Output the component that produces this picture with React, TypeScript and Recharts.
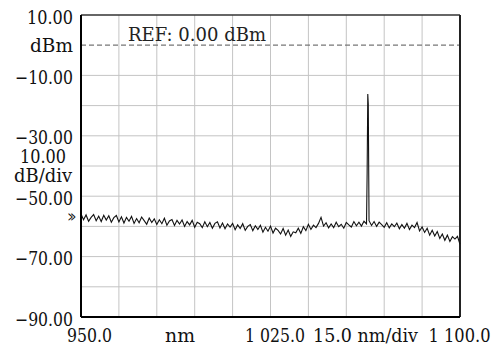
import React from "react";
import { LineChart, Line, XAxis, YAxis, ReferenceLine } from "recharts";

// optical spectrum trace, 1 nm sampling
const startNm = 950;
const powerA = [
  -55.9, -57.8, -56.2, -58.3, -57.0, -56.1, -58.1, -56.6, -58.4, -56.3,
  -57.9, -56.5, -58.6, -57.1, -56.4, -58.5, -56.8, -58.9, -57.0, -58.3,
  -56.7, -59.0, -57.4, -58.8, -56.9, -58.1, -59.3, -57.2, -58.7, -57.5,
  -59.4, -57.8, -59.1, -57.3, -59.6, -58.2, -57.7, -59.7, -58.0, -59.2,
  -57.9, -60.0, -58.4, -59.5, -58.0, -60.3, -58.6, -59.1, -60.4, -58.5,
  -60.1, -58.7, -60.6, -59.0, -58.5, -60.5, -58.9, -60.8, -59.2, -60.2,
];
const startB = 1010;
const powerB = [
  -59.0, -61.1, -59.5, -60.7, -59.1, -61.3, -60.0, -59.4, -61.4, -59.8,
  -61.0, -59.6, -61.9, -60.3, -61.6, -59.9, -62.2, -60.6, -61.3, -62.5,
  -60.7, -62.9, -61.2, -63.3, -61.8, -62.1, -60.6, -62.3, -60.1, -61.4,
  -59.3, -61.0, -59.6, -60.4, -59.0, -57.0, -59.9, -58.8, -60.5, -59.2,
  -60.4, -58.6, -60.1, -59.3, -60.6, -58.7, -59.5, -60.2, -58.4, -59.8,
  -58.6, -59.9, -58.3, -59.2,
];
const peakNm = [1063.25, 1063.5, 1063.7];
const peakDbm = [-42.0, -16.2, -19.5];
const startC = 1064;
const powerC = [
  -58.1, -59.7, -58.4, -60.0, -58.6, -59.4,
  -60.3, -58.8, -60.5, -59.2, -60.1, -58.9, -60.8, -59.4, -60.6, -59.0,
  -61.0, -59.6, -60.4, -58.7, -61.5, -60.2, -62.0, -60.6, -62.9, -61.3,
  -63.2, -61.7, -64.0, -62.5, -64.6, -62.9, -65.0, -63.4, -64.2, -63.3,
  -65.9,
];

const gridX = [965, 980, 995, 1010, 1025, 1040, 1055, 1070, 1085];
const gridY = [-10, -20, -30, -40, -50, -60, -70, -80];

const yTickValues = [10, 0.6, -10, -30, -36.3, -42.6, -50, -55.4, -70, -90];
const yTickLabels = ["10.00", "dBm", "−10.00", "−30.00", "10.00", "dB/div", "−50.00", "≫", "−70.00", "−90.00"];
const xTickValues = [953.4, 989.2, 1026.8, 1062.6, 1100];
const xTickLabels = ["950.0", "nm", "1 025.0", "15.0 nm/div", "1 100.0"];

// label widths in px, matched to the screen capture
const yLabelWidth: Record<string, number> = { "10.00": 46, dBm: 43, "dB/div": 58, "≫": 8 };
const xLabelWidth = [45, 30, 60, 105, 62];

const data = [
  ...powerA.map((dbm, i) => ({ nm: startNm + i, dbm })),
  ...powerB.map((dbm, i) => ({ nm: startB + i, dbm })),
  ...peakNm.map((nm, i) => ({ nm, dbm: peakDbm[i] })),
  ...powerC.map((dbm, i) => ({ nm: startC + i, dbm })),
];

const FONT = "DejaVu Serif";

const YTick = ({ x, y, payload }: any) => {
  const idx = yTickValues.indexOf(payload.value);
  const label = yTickLabels[idx];
  const small = label === "≫";
  const divLabel = idx === 4 || idx === 5;
  const w = yLabelWidth[label] ?? 58;
  return (
    <text
      x={small ? x - 5 : divLabel ? 43 : x - 8}
      y={y + 8.5}
      textAnchor={divLabel ? "middle" : "end"}
      fontFamily={FONT}
      fontSize={small ? 13 : 19}
      textLength={w}
      lengthAdjust="spacingAndGlyphs"
      fill="#111"
    >
      {label}
    </text>
  );
};

const XTick = ({ x, y, payload }: any) => {
  const idx = xTickValues.indexOf(payload.value);
  return (
    <text
      x={idx === 4 ? x - 0.5 : x}
      y={y + 25}
      textAnchor="middle"
      fontFamily={FONT}
      fontSize={19}
      textLength={xLabelWidth[idx]}
      lengthAdjust="spacingAndGlyphs"
      fill="#111"
    >
      {xTickLabels[idx]}
    </text>
  );
};

const RefLabel = (props: any) => {
  const { viewBox } = props;
  return (
    <text
      x={viewBox.x + 47}
      y={viewBox.y - 4}
      fontFamily={FONT}
      fontSize={19}
      textLength={138}
      lengthAdjust="spacingAndGlyphs"
      fill="#222"
    >
      REF: 0.00 dBm
    </text>
  );
};

export default function App() {
  return (
    <div style={{ position: "absolute", left: 0, top: 0, background: "#fff" }}>
      <LineChart
        width={497}
        height={352}
        data={data}
        margin={{ top: 15, right: 37, bottom: 0, left: 0 }}
        style={{ fontFamily: FONT }}
      >
        <XAxis
          type="number"
          dataKey="nm"
          domain={[950, 1100]}
          ticks={xTickValues}
          interval={0}
          tick={<XTick />}
          tickLine={false}
          tickSize={0}
          tickMargin={0}
          height={35}
          axisLine={{ stroke: "#000", strokeWidth: 2 }}
        />
        <YAxis
          type="number"
          domain={[-90, 10]}
          ticks={yTickValues}
          interval={0}
          tick={<YTick />}
          tickLine={false}
          tickSize={0}
          tickMargin={0}
          width={81}
          allowDataOverflow
          axisLine={{ stroke: "#000", strokeWidth: 2 }}
        />
        {gridX.map((v) => (
          <ReferenceLine key={"gx" + v} x={v} stroke="#c4c4c4" strokeWidth={1} />
        ))}
        {gridY.map((v) => (
          <ReferenceLine key={"gy" + v} y={v} stroke="#c4c4c4" strokeWidth={1} />
        ))}
        <ReferenceLine y={0} stroke="#777" strokeWidth={1.3} strokeDasharray="5 3" label={RefLabel} />
        <ReferenceLine y={10} stroke="#333" strokeWidth={1.5} />
        <ReferenceLine x={1100} stroke="#222" strokeWidth={2} />
        <Line
          type="linear"
          dataKey="dbm"
          stroke="#111"
          strokeWidth={1.1}
          dot={false}
          isAnimationActive={false}
        />
      </LineChart>
    </div>
  );
}
